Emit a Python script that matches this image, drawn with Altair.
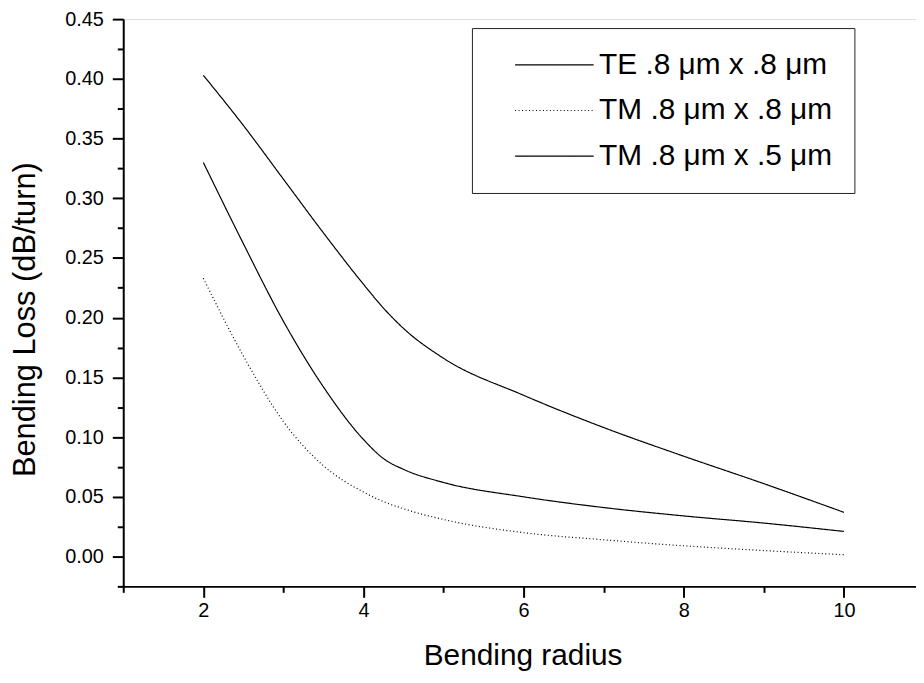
import altair as alt
import pandas as pd

# ---- data ----
radius = [2, 2.5, 3, 3.5, 4, 4.25, 4.5, 5, 6, 7, 8, 9, 10]
te_08x08 = [0.403, 0.361, 0.316, 0.271, 0.228, 0.208, 0.191, 0.166, 0.135, 0.108, 0.084, 0.061, 0.037]
tm_08x08 = [0.233, 0.168, 0.113, 0.076, 0.054, 0.046, 0.040, 0.031, 0.020, 0.014, 0.009, 0.005, 0.0015]
tm_08x05 = [0.330, 0.262, 0.197, 0.142, 0.098, 0.082, 0.073, 0.062, 0.050, 0.041, 0.034, 0.028, 0.021]

series_names = ["TE .8 \u03bcm x .8 \u03bcm", "TM .8 \u03bcm x .8 \u03bcm", "TM .8 \u03bcm x .5 \u03bcm"]
series_values = [te_08x08, tm_08x08, tm_08x05]

x_major = [2, 4, 6, 8, 10]
x_minor = [1, 3, 5, 7, 9]
y_major = [0.0, 0.05, 0.10, 0.15, 0.20, 0.25, 0.30, 0.35, 0.40, 0.45]
y_minor = [-0.025, 0.025, 0.075, 0.125, 0.175, 0.225, 0.275, 0.325, 0.375, 0.425]

rows = []
for name, vals in zip(series_names, series_values):
    for r, v in zip(radius, vals):
        rows.append({"radius": r, "loss": v, "series": name})
df = pd.DataFrame(rows)

FONT = "Liberation Sans"
xscale = alt.Scale(domain=[1, 10.9], nice=False, zero=False)
yscale = alt.Scale(domain=[-0.025, 0.45], nice=False, zero=False)

common_axis = dict(tickWidth=2, tickColor="black", domainColor="black", domainWidth=2,
                   grid=False, labelFont=FONT, titleFont=FONT, labelColor="black",
                   titleColor="black", titleFontWeight="normal")

lines = alt.Chart(df).mark_line(interpolate="monotone", strokeWidth=1.2, color="black").encode(
    x=alt.X("radius:Q", scale=xscale,
            axis=alt.Axis(values=x_major, tickSize=11, labelFontSize=20, labelPadding=3,
                          format="d", title="Bending radius", titleFontSize=30,
                          titlePadding=21, titleX=402, orient="bottom", **common_axis)),
    y=alt.Y("loss:Q", scale=yscale,
            axis=alt.Axis(values=y_major, tickSize=11, labelFontSize=20, labelPadding=9,
                          format=".2f", title="Bending Loss (dB/turn)", titleFontSize=31,
                          titlePadding=23, titleY=302, orient="left", **common_axis)),
    strokeDash=alt.StrokeDash(
        "series:N",
        scale=alt.Scale(domain=series_names, range=[[1, 0], [1, 2.5], [1, 0]]),
        legend=alt.Legend(title=None, orient="none", legendX=351, legendY=9,
                          padding=22, strokeColor="#222", fillColor="white",
                          symbolType="M-5,0H5", symbolSize=250, symbolStrokeWidth=1.2,
                          symbolStrokeColor="black", symbolOffset=46,
                          labelFont=FONT, labelFontSize=30, labelColor="black",
                          labelOffset=30, rowPadding=16, labelLimit=400),
    ),
)

minor = alt.Chart(df).mark_line(opacity=0).encode(
    x=alt.X("radius:Q", scale=xscale,
            axis=alt.Axis(values=x_minor, tickSize=6, labels=False, domain=False,
                          title=None, orient="bottom", tickWidth=2, tickColor="black", grid=False)),
    y=alt.Y("loss:Q", scale=yscale,
            axis=alt.Axis(values=y_minor, tickSize=6, labels=False, domain=False,
                          title=None, orient="left", tickWidth=2, tickColor="black", grid=False)),
    detail="series:N",
)

chart = alt.layer(lines, minor).resolve_axis(x="independent", y="independent").properties(
    width=798, height=571,
    autosize=alt.AutoSizeParams(type="none"),
    padding={"left": 116, "top": 9, "right": 0, "bottom": 86},
).configure_view(stroke=None).configure(background="white")

chart.save("out.html", embed_options={"renderer": "svg", "actions": False})
